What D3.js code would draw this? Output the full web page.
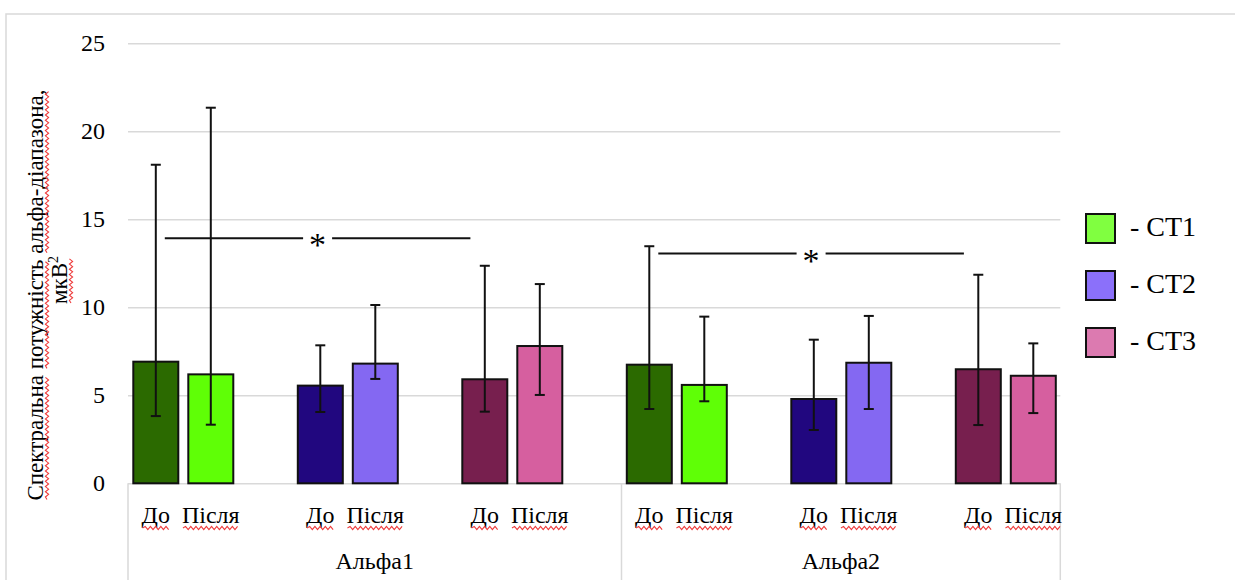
<!DOCTYPE html>
<html lang="uk">
<head>
<meta charset="utf-8">
<script src="https://cdn.jsdelivr.net/npm/d3@7"></script>
<style>
  html, body { margin: 0; padding: 0; background: #fff; }
  svg { display: block; }
  svg text { font-family: "Liberation Serif", "Times New Roman", serif !important; fill: #000; }
</style>
</head>
<body>
<svg id="chart" width="1235" height="580"></svg>
<script>
// ---- data ----
const groups = ["Альфа1", "Альфа2"];
const series = ["СТ1", "СТ2", "СТ3"];
const phases = ["До", "Після"];

// bar order inside a group: СТ1 До, СТ1 Після, СТ2 До, СТ2 Після, СТ3 До, СТ3 Після
const alpha1Mean  = [6.91, 6.19, 5.55, 6.80, 5.91, 7.80];
const alpha1Upper = [18.10, 21.34, 7.84, 10.13, 12.36, 11.32];
const alpha1Lower = [3.82, 3.33, 4.05, 5.93, 4.07, 5.02];

const alpha2Mean  = [6.74, 5.59, 4.79, 6.85, 6.48, 6.11];
const alpha2Upper = [13.47, 9.47, 8.16, 9.51, 11.85, 7.95];
const alpha2Lower = [4.22, 4.66, 3.03, 4.22, 3.31, 3.99];

// significance marks (до СТ1 vs до СТ3) per group
const sigLevels = [13.92, 13.05];

const yTicks = [0, 5, 10, 15, 20, 25];
const yTitleLines = ["Спектральна потужність альфа-діапазона,", "мкВ"];

// ---- styling ----
const barColors = {
  "СТ1": ["#2b6a00", "#5fff06"],
  "СТ2": ["#21077f", "#8468f2"],
  "СТ3": ["#771f4e", "#d65f9f"]
};
const legendColors = { "СТ1": "#80ff40", "СТ2": "#8b70fa", "СТ3": "#dc7ab0" };
const gridColor = "#d9d9d9";
const squiggleColor = "#ee3b3b";

// ---- layout ----
const W = 1235, H = 580;
const plotLeft = 128, plotRight = 1060.3, plotTop = 43.3, plotBottom = 483.3;
const slotWidth = 164.5, slotOffset = 5.3;

const rows = [];
const means = [alpha1Mean, alpha2Mean], uppers = [alpha1Upper, alpha2Upper], lowers = [alpha1Lower, alpha2Lower];
groups.forEach((g, gi) => {
  series.forEach((s, si) => {
    phases.forEach((p, pi) => {
      const k = si * 2 + pi;
      rows.push({ group: g, series: s, phase: p, pair: gi * 3 + si,
                  mean: means[gi][k], upper: uppers[gi][k], lower: lowers[gi][k] });
    });
  });
});
const pairIds = d3.range(groups.length * series.length);

const svg = d3.select("#chart");

const y = d3.scaleLinear().domain([0, 25]).range([plotBottom, plotTop]);
const xPair = d3.scaleBand().domain(pairIds)
  .range([plotLeft + slotOffset, plotLeft + slotOffset + slotWidth * pairIds.length])
  .paddingInner(0).paddingOuter(0);
const xPhase = d3.scaleBand().domain(phases).range([0, 100]).paddingInner(10 / 55).paddingOuter(0);
const bw = xPhase.bandwidth();
const barX = d => xPair(d.pair) + xPhase(d.phase);

// outer frame
svg.append("path")
  .attr("d", `M6,${H} V14 H${W}`)
  .attr("fill", "none").attr("stroke", gridColor).attr("stroke-width", 1.5);

// gridlines
const grid = svg.append("g").attr("transform", `translate(${plotLeft},0)`)
  .call(d3.axisLeft(y).tickValues(yTicks).tickSize(-(plotRight - plotLeft)).tickFormat(""));
grid.select(".domain").remove();
grid.selectAll("line").attr("stroke", gridColor).attr("stroke-width", 1.5);

// y tick labels
const yAxis = svg.append("g").attr("transform", `translate(${plotLeft},0)`)
  .call(d3.axisLeft(y).tickValues(yTicks).tickSize(0).tickPadding(23));
yAxis.attr("font-family", null).attr("font-size", null);
yAxis.select(".domain").remove();
yAxis.selectAll("text").attr("font-size", 24).attr("fill", "#000");

// category axis frame (separators between groups)
const groupStarts = groups.map((g, gi) => xPair(gi * 3) - slotOffset);
const groupEnds = groups.map((g, gi) => gi < groups.length - 1 ? groupStarts[gi + 1] : plotRight);
const seps = groupStarts.concat([plotRight]);
svg.append("g").selectAll("line").data(seps).join("line")
  .attr("x1", d => d).attr("x2", d => d)
  .attr("y1", plotBottom).attr("y2", H)
  .attr("stroke", gridColor).attr("stroke-width", 1.5);

// squiggly underline helper
function squiggle(sel, x0, x1, yy) {
  const step = 2.6, amp = 1.6;
  let d = `M${x0},${yy}`;
  let up = true;
  for (let x = x0 + step; x <= x1; x += step) {
    d += ` L${x},${yy + (up ? -amp : amp)}`;
    up = !up;
  }
  sel.append("path").attr("d", d).attr("fill", "none")
    .attr("stroke", squiggleColor).attr("stroke-width", 1.1);
}

// bars
svg.append("g").selectAll("rect").data(rows).join("rect")
  .attr("x", barX)
  .attr("y", d => y(d.mean))
  .attr("width", bw)
  .attr("height", d => y(0) - y(d.mean))
  .attr("fill", d => barColors[d.series][phases.indexOf(d.phase)])
  .attr("stroke", "#111").attr("stroke-width", 2);

// error bars
const eb = svg.append("g").attr("stroke", "#111").attr("stroke-width", 2);
const capHalf = 5;
rows.forEach(d => {
  const cx = barX(d) + bw / 2;
  eb.append("line").attr("x1", cx).attr("x2", cx).attr("y1", y(d.upper)).attr("y2", y(d.lower));
  eb.append("line").attr("x1", cx - capHalf).attr("x2", cx + capHalf).attr("y1", y(d.upper)).attr("y2", y(d.upper));
  eb.append("line").attr("x1", cx - capHalf).attr("x2", cx + capHalf).attr("y1", y(d.lower)).attr("y2", y(d.lower));
});

// significance marks
const sigG = svg.append("g");
sigLevels.forEach((lvl, gi) => {
  const x1 = xPair(gi * 3) + xPhase("До") + bw * 0.7;
  const x2 = xPair(gi * 3 + 2) + xPhase("До") + bw * 0.18;
  const mid = (x1 + x2) / 2, gap = 14.5, yy = y(lvl);
  sigG.append("line").attr("x1", x1).attr("x2", mid - gap).attr("y1", yy).attr("y2", yy)
    .attr("stroke", "#111").attr("stroke-width", 2);
  sigG.append("line").attr("x1", mid + gap).attr("x2", x2).attr("y1", yy).attr("y2", yy)
    .attr("stroke", "#111").attr("stroke-width", 2);
  sigG.append("text").attr("x", mid).attr("y", yy + 18)
    .attr("text-anchor", "middle").attr("font-size", 34).text("*");
});

// category labels
const catG = svg.append("g");
rows.forEach(d => {
  const cx = barX(d) + bw / 2;
  const t = catG.append("text").attr("x", cx).attr("y", 523)
    .attr("text-anchor", "middle").attr("font-size", 24).text(d.phase);
  const len = t.node().getComputedTextLength();
  squiggle(catG, cx - len / 2 + 1, cx + len / 2 - 1, 528);
});

// group labels
groups.forEach((g, gi) => {
  svg.append("text").attr("x", (groupStarts[gi] + groupEnds[gi]) / 2).attr("y", 569)
    .attr("text-anchor", "middle").attr("font-size", 24).text(g);
});

// y axis title (rotated, two lines)
const titleCenters = [295, 280];
const titleBaselines = [43, 67];
yTitleLines.forEach((line, i) => {
  const g = svg.append("g").attr("transform", `translate(${titleBaselines[i]},${titleCenters[i]}) rotate(-90)`);
  const t = g.append("text").attr("text-anchor", "middle").attr("font-size", 23).text(line);
  if (i === 1) t.append("tspan").attr("font-size", 14).attr("dy", -9).text("2");
  const node = t.node();
  const total = node.getComputedTextLength();
  const start = -total / 2;
  // underline each word
  let idx = 0;
  line.split(" ").forEach(w => {
    const off = idx > 0 ? node.getSubStringLength(0, idx) : 0;
    const wl = node.getSubStringLength(idx, w.length);
    const extra = (i === 1) ? (total - node.getSubStringLength(0, line.length)) : 0;
    squiggle(g, start + off + 1, start + off + wl + extra - 1, 4);
    idx += w.length + 1;
  });
});

// legend
const legend = svg.append("g").attr("transform", "translate(1086,214)");
series.forEach((s, i) => {
  const row = legend.append("g").attr("transform", `translate(0,${i * 57})`);
  row.append("rect").attr("width", 29).attr("height", 29)
    .attr("fill", legendColors[s]).attr("stroke", "#111").attr("stroke-width", 2);
  row.append("text").attr("x", 44).attr("y", 22).attr("font-size", 28).text("- " + s);
});
</script>
</body>
</html>
